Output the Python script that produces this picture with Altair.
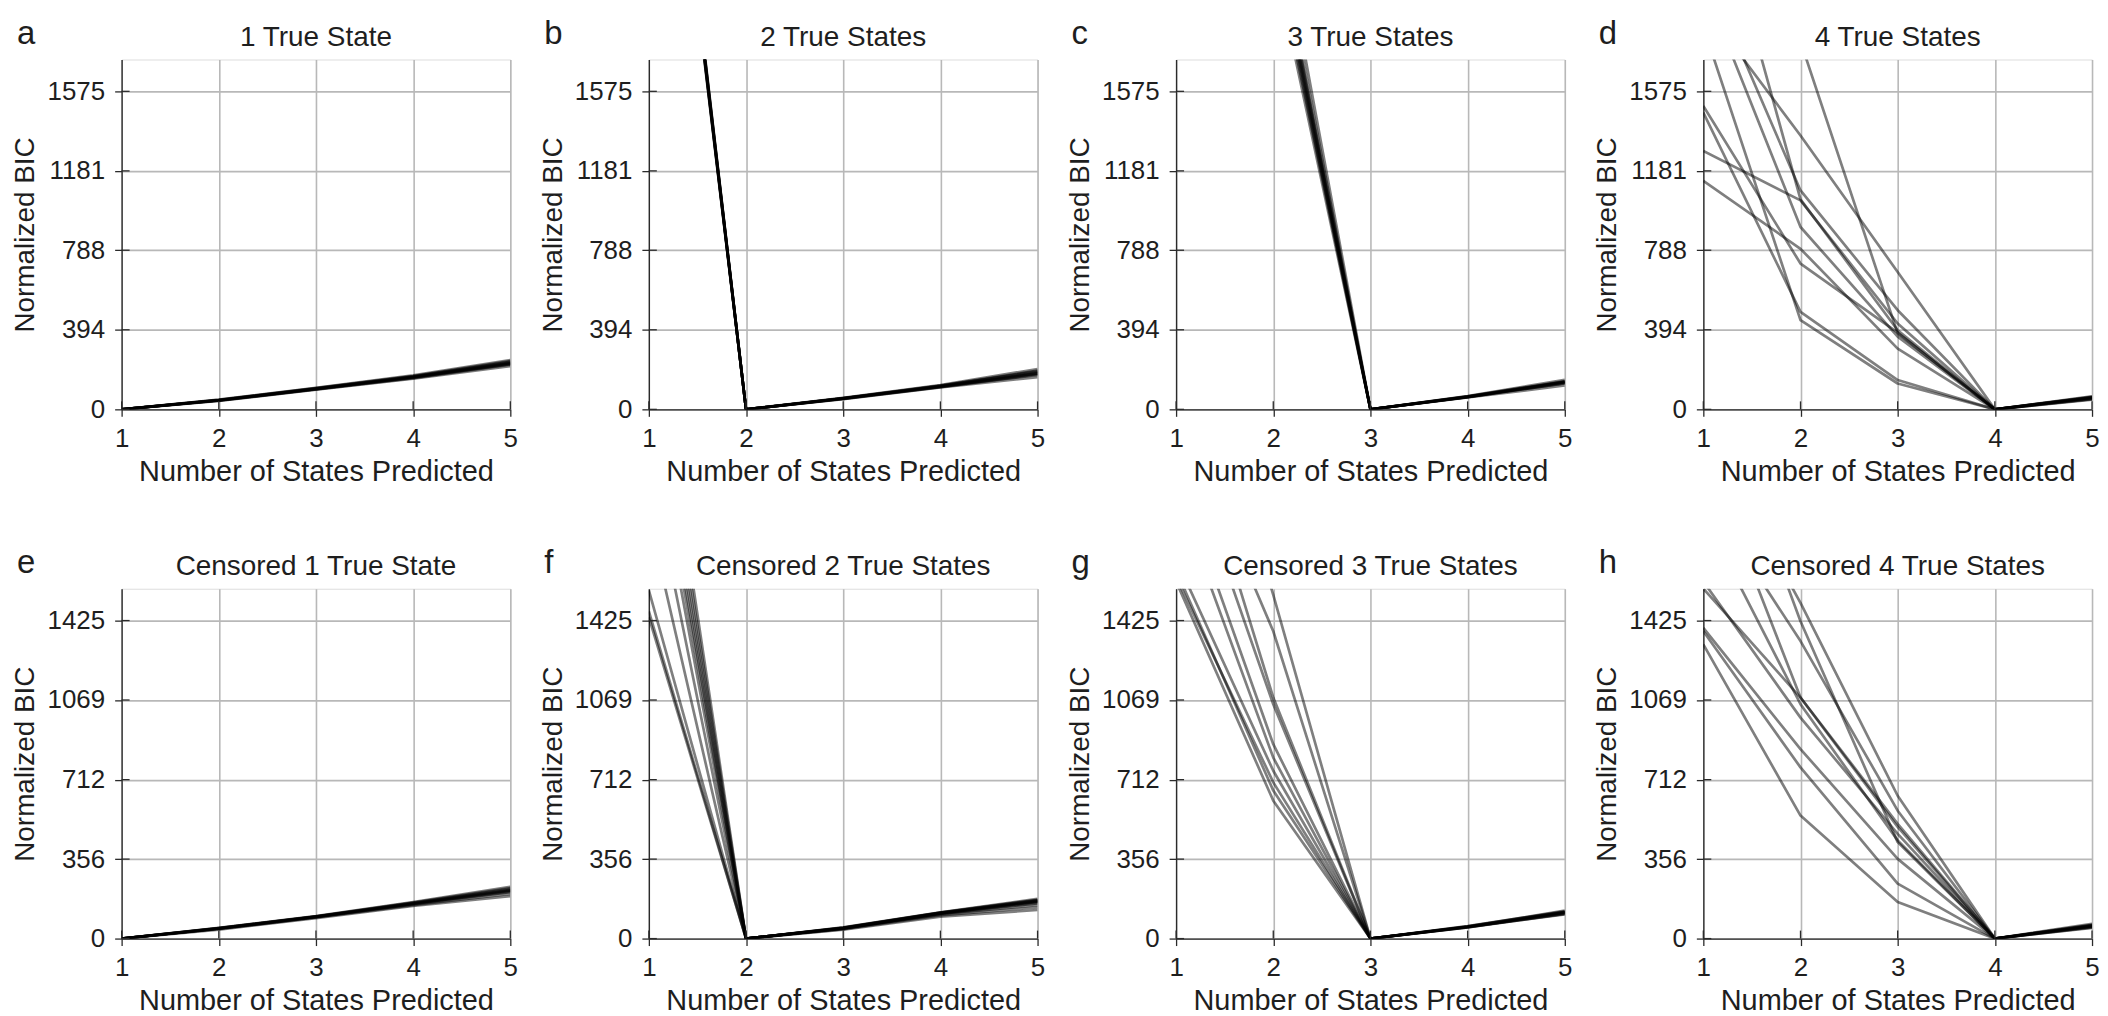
import altair as alt
import pandas as pd

# ---------------- data ----------------
X_TICKS = [1, 2, 3, 4, 5]
Y_TICKS_TOP = [0, 394, 788, 1181, 1575]
Y_TICKS_BOTTOM = [0, 356, 712, 1069, 1425]
Y_MAX_TOP = 1732.5
Y_MAX_BOTTOM = 1567.5

TITLES = ["1 True State", "2 True States", "3 True States", "4 True States",
          "Censored 1 True State", "Censored 2 True States",
          "Censored 3 True States", "Censored 4 True States"]
LETTERS = ["a", "b", "c", "d", "e", "f", "g", "h"]

RUNS_A = [
    [0, 44, 100, 158, 226], [0, 46, 104, 163, 235], [0, 42, 97, 152, 214],
    [0, 48, 107, 168, 244], [0, 45, 102, 160, 229], [0, 43, 99, 155, 221],
    [0, 47, 105, 165, 239], [0, 44, 101, 157, 224], [0, 46, 103, 162, 232],
    [0, 45, 100, 159, 228],
]
RUNS_B = [
    [4090, 0, 54, 114, 180], [4050, 0, 52, 110, 170], [4120, 0, 56, 118, 192],
    [4070, 0, 53, 112, 176], [4100, 0, 55, 116, 186], [4030, 0, 51, 108, 160],
    [4140, 0, 57, 120, 200], [4080, 0, 54, 113, 178], [4110, 0, 55, 117, 188],
    [4060, 0, 53, 111, 174],
]
RUNS_C = [
    [5200, 2400, 0, 62, 135], [5100, 2300, 0, 60, 128], [5300, 2500, 0, 64, 140],
    [5150, 2350, 0, 61, 132], [5250, 2450, 0, 63, 138], [5050, 2250, 0, 59, 118],
    [5350, 2600, 0, 66, 146], [5180, 2380, 0, 62, 134], [5220, 2420, 0, 63, 136],
    [5120, 2330, 0, 60, 130],
]
RUNS_D = [
    [1895, 442, 128, 0, 60], [1470, 483, 145, 0, 48], [1503, 722, 380, 0, 55],
    [1280, 1035, 425, 0, 62], [1132, 795, 301, 0, 50], [2000, 1356, 680, 0, 58],
    [3200, 1822, 376, 0, 65], [2777, 1040, 392, 0, 52], [2110, 903, 360, 0, 57],
    [2200, 1084, 491, 0, 60],
]
RUNS_E = [
    [0, 45, 97, 155, 212], [0, 47, 99, 160, 222], [0, 40, 92, 146, 190],
    [0, 48, 101, 164, 232], [0, 44, 96, 153, 208], [0, 46, 98, 157, 216],
    [0, 43, 95, 150, 200], [0, 47, 100, 161, 226], [0, 45, 97, 156, 214],
    [0, 46, 98, 158, 218],
]
RUNS_F = [
    [1440, 0, 40, 98, 128], [1466, 0, 42, 104, 140], [1560, 0, 44, 108, 150],
    [1889, 0, 45, 110, 158], [2148, 0, 46, 112, 162], [2340, 0, 47, 114, 166],
    [2450, 0, 48, 115, 170], [2529, 0, 46, 113, 164], [2613, 0, 49, 117, 174],
    [2703, 0, 47, 114, 168], [2800, 0, 50, 118, 178], [2904, 0, 48, 116, 172],
]
RUNS_G = [
    [1600, 618, 0, 52, 115], [1650, 663, 0, 55, 120], [1700, 752, 0, 50, 110],
    [2000, 811, 0, 53, 118], [2100, 871, 0, 51, 112], [2300, 1050, 0, 54, 125],
    [2500, 1080, 0, 56, 122], [2400, 1377, 0, 52, 108], [3000, 1540, 0, 50, 116],
    [1620, 700, 0, 53, 119],
]
RUNS_H = [
    [1568, 1080, 514, 0, 55], [1600, 990, 469, 0, 60], [1392, 849, 357, 0, 50],
    [1377, 767, 246, 0, 58], [1318, 551, 164, 0, 62], [2000, 1333, 573, 0, 48],
    [2300, 1504, 640, 0, 66], [2600, 1422, 432, 0, 52], [2200, 1080, 500, 0, 57],
    [1900, 1050, 440, 0, 54],
]

ALL_RUNS = [RUNS_A, RUNS_B, RUNS_C, RUNS_D, RUNS_E, RUNS_F, RUNS_G, RUNS_H]

# ---------------- styling ----------------
W, H = 390, 351
FONT = "Liberation Sans"
TEXT = "#1e1e1e"
FRAME = "#2b2b2b"
GRID = "#b8b8b8"


def panel(runs, ymax, yticks, title, letter):
    rows = []
    for i, r in enumerate(runs):
        for j, v in enumerate(r):
            rows.append({"run": i, "k": X_TICKS[j], "bic": v})
    df = pd.DataFrame(rows)

    xs = alt.Scale(domain=[1, 5], nice=False, zero=False)
    ys = alt.Scale(domain=[0, ymax], nice=False, zero=False)

    xaxis = alt.Axis(values=X_TICKS, format="d", title="Number of States Predicted",
                     grid=True, gridColor=GRID, gridWidth=1.6,
                     labelFontSize=26, labelPadding=9, labelFlush=False, labelOverlap=False,
                     tickSize=7, tickColor=FRAME, tickWidth=1.3,
                     domainColor=FRAME, domainWidth=1.3,
                     titleFontSize=29, titleFontWeight="normal", titleY=71,
                     titleBaseline="alphabetic", labelColor=TEXT, titleColor=TEXT,
                     labelFont=FONT, titleFont=FONT)
    yaxis = alt.Axis(values=yticks, format="d", title="Normalized BIC",
                     grid=True, gridColor=GRID, gridWidth=1.6,
                     labelFontSize=26, labelPadding=10, labelFlush=False, labelOverlap=False,
                     tickSize=7, tickColor=FRAME, tickWidth=1.3,
                     domainColor=FRAME, domainWidth=1.3,
                     titleFontSize=28, titleFontWeight="normal",
                     titleX=-96, titleY=H / 2, titleAngle=270,
                     titleAlign="center", titleBaseline="middle",
                     labelColor=TEXT, titleColor=TEXT, labelFont=FONT, titleFont=FONT)

    lines = alt.Chart(df).mark_line(
        clip=True, color="black", opacity=0.5, strokeWidth=2.7, strokeJoin="round"
    ).encode(
        x=alt.X("k:Q", scale=xs, axis=xaxis),
        y=alt.Y("bic:Q", scale=ys, axis=yaxis),
        detail="run:N",
    )

    ytick_in = alt.Chart(pd.DataFrame({"bic": yticks})).mark_rule(
        color=FRAME, strokeWidth=1.3
    ).encode(y=alt.Y("bic:Q", scale=ys, axis=yaxis), x=alt.value(0), x2=alt.value(8))
    xtick_in = alt.Chart(pd.DataFrame({"k": X_TICKS})).mark_rule(
        color=FRAME, strokeWidth=1.3
    ).encode(x=alt.X("k:Q", scale=xs, axis=xaxis), y=alt.value(H - 8), y2=alt.value(H))

    ttl = alt.Chart(pd.DataFrame({"t": [title]})).mark_text(
        font=FONT, fontSize=28, color=TEXT, align="center", baseline="alphabetic"
    ).encode(x=alt.value(W / 2), y=alt.value(-14), text="t:N")
    let = alt.Chart(pd.DataFrame({"t": [letter]})).mark_text(
        font=FONT, fontSize=33, color=TEXT, align="left", baseline="alphabetic"
    ).encode(x=alt.value(-105), y=alt.value(-16), text="t:N")

    return alt.layer(lines, ytick_in, xtick_in, ttl, let).properties(width=W, height=H)


panels = []
for idx in range(8):
    top = idx < 4
    panels.append(panel(ALL_RUNS[idx],
                        Y_MAX_TOP if top else Y_MAX_BOTTOM,
                        Y_TICKS_TOP if top else Y_TICKS_BOTTOM,
                        TITLES[idx], LETTERS[idx]))

chart = alt.concat(*panels, columns=4, spacing={"row": 180, "column": 139},
                   bounds="flush").properties(
    padding={"left": 3, "top": 7, "right": 0, "bottom": 0}
).configure_view(stroke=FRAME, strokeWidth=1.3).configure(background="white")

chart.save("out.html", embed_options={"renderer": "svg", "actions": False})
